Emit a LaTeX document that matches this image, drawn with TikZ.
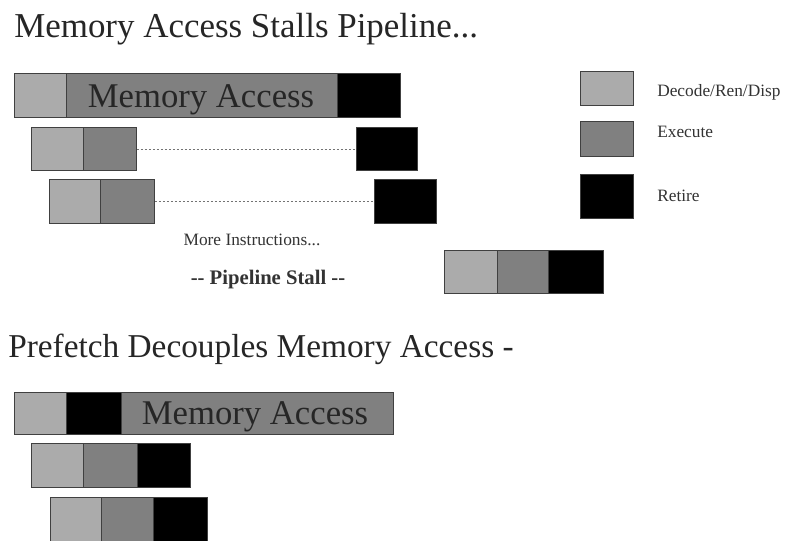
\documentclass[tikz,border=0pt]{standalone}
\usepackage{fontspec}
\setmainfont{Liberation Serif}
\begin{document}
\begin{tikzpicture}[x=0.75pt,y=-0.75pt,
  cell/.style={draw=black!75, line width=0.6pt, inner sep=0pt, anchor=north west},
  sz/.style 2 args={minimum width=#1*0.75pt, minimum height=#2*0.75pt},
  decode/.style={cell, fill=black!33},
  exec/.style={cell, fill=black!50},
  retire/.style={cell, fill=black},
  gap/.style={draw=black!55, line width=0.5pt, dash pattern=on 2pt off 1pt},
  title/.style={anchor=base west, inner sep=0pt, text=black!85},
  bartext/.style={anchor=base, inner sep=0pt, font=\fontsize{26}{30}\selectfont, text=black!85},
  legtext/.style={anchor=base west, inner sep=0pt, font=\fontsize{13}{15}\selectfont, text=black!80},
  note/.style={anchor=base, inner sep=0pt, text=black!80}]
\useasboundingbox (0,0) rectangle (786,541);
\fill[white] (0,0) rectangle (786,541);

% --- stalled pipeline ---
\node[title, font=\fontsize{26.2}{30}\selectfont] (t1) at (14,38) {Memory Access Stalls Pipeline...};

\node[decode, sz={52}{44}] (a1) at (14,73) {};
\node[exec,   sz={271}{44}] (a2) at (66,73) {};
\node[retire, sz={63}{44}] (a3) at (337,73) {};
\node[bartext] (a2t) at (201,108) {Memory Access};

\node[decode, sz={52}{43}] (b1) at (31,127) {};
\node[exec,   sz={53}{43}] (b2) at (83,127) {};
\node[retire, sz={61}{43}] (b3) at (356,127) {};
\draw[gap] (b2.east) -- (b3.west);

\node[decode, sz={51}{44}] (c1) at (49,179) {};
\node[exec,   sz={54}{44}] (c2) at (100,179) {};
\node[retire, sz={62}{44}] (c3) at (374,179) {};
\draw[gap] (c2.east) -- (c3.west);

\node[note, font=\fontsize{13}{15}\selectfont] (more) at (252,246) {More Instructions...};
\node[note, font=\fontsize{15.5}{18}\selectfont\bfseries] (stall) at (268,285) {-{}- Pipeline Stall -{}-};

\node[decode, sz={53}{43}] (d1) at (444,250) {};
\node[exec,   sz={51}{43}] (d2) at (497,250) {};
\node[retire, sz={55}{43}] (d3) at (548,250) {};

% --- legend ---
\node[decode, sz={53}{34}] (k1) at (580,71) {};
\node[exec,   sz={53}{35}] (k2) at (580,121) {};
\node[retire, sz={53}{44}] (k3) at (580,174) {};
\node[legtext] (k1t) at (657,97) {Decode/Ren/Disp};
\node[legtext] (k2t) at (657,138) {Execute};
\node[legtext] (k3t) at (657,202) {Retire};

% --- prefetched pipeline ---
\node[title, font=\fontsize{25}{30}\selectfont] (t2) at (8,358) {Prefetch Decouples Memory Access -};

\node[decode, sz={52}{42}] (e1) at (14,392) {};
\node[retire, sz={55}{42}] (e2) at (66,392) {};
\node[exec,   sz={272}{42}] (e3) at (121,392) {};
\node[bartext] (e3t) at (255,425) {Memory Access};

\node[decode, sz={52}{44}] (f1) at (31,443) {};
\node[exec,   sz={54}{44}] (f2) at (83,443) {};
\node[retire, sz={53}{44}] (f3) at (137,443) {};

\node[decode, sz={51}{46}] (g1) at (50,497) {};
\node[exec,   sz={52}{46}] (g2) at (101,497) {};
\node[retire, sz={54}{46}] (g3) at (153,497) {};
\end{tikzpicture}
\end{document}
